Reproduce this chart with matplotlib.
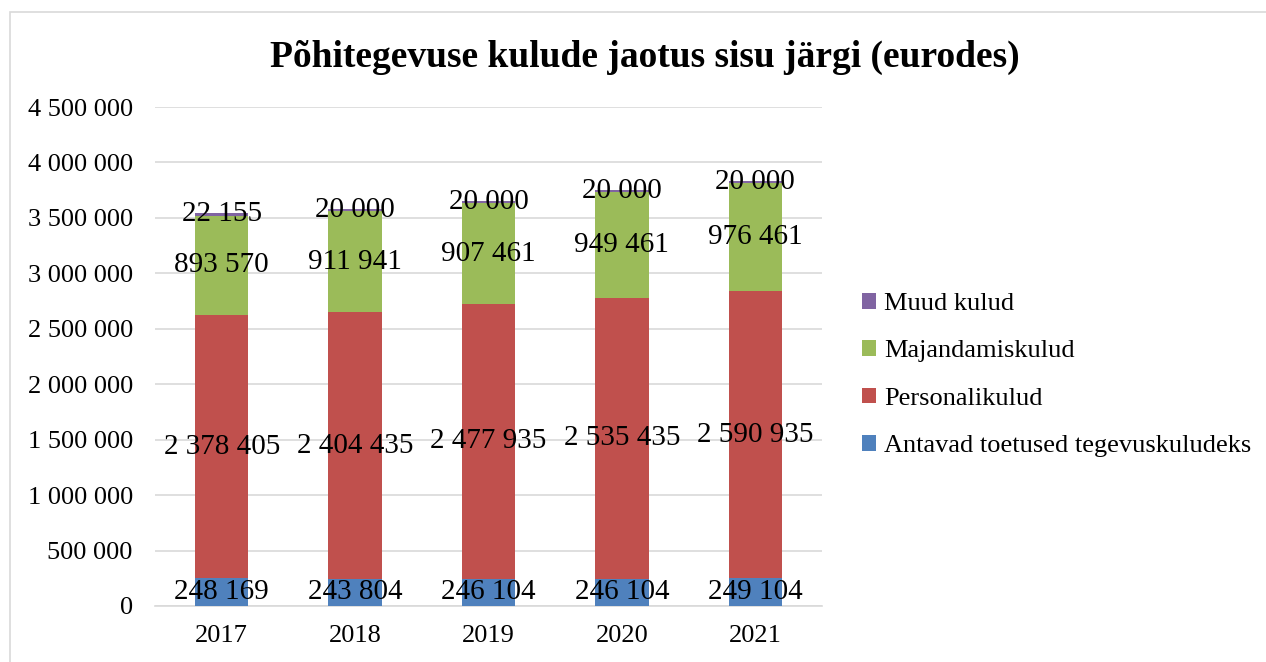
import numpy as np
import matplotlib.pyplot as plt
from matplotlib.patches import Rectangle

years = ['2017', '2018', '2019', '2020', '2021']
toetused = [248169, 243804, 246104, 246104, 249104]
personal = [2378405, 2404435, 2477935, 2535435, 2590935]
majandamine = [893570, 911941, 907461, 949461, 976461]
muud = [22155, 20000, 20000, 20000, 20000]

series = [
    ('Antavad toetused tegevuskuludeks', toetused, '#4F81BD'),
    ('Personalikulud', personal, '#C0504D'),
    ('Majandamiskulud', majandamine, '#9BBB59'),
    ('Muud kulud', muud, '#8064A2'),
]

plt.rcParams['font.family'] = ['Liberation Serif', 'DejaVu Serif']


def fmt(v):
    return f'{int(v):,}'.replace(',', ' ')


fig = plt.figure(figsize=(12.66, 6.62), dpi=100)
ax = fig.add_axes([155 / 1266, 1 - 606 / 662, 667 / 1266, 499 / 662])

# outer chart border
fig.patches.append(Rectangle((10 / 1266, -0.01), 1.0, 1 - 12 / 662 + 0.01,
                             transform=fig.transFigure, fill=False,
                             edgecolor='#D9D9D9', linewidth=1.2))

x = np.arange(len(years))
bottom = np.zeros(len(years))
handles = []
for name, vals, color in series:
    vals = np.array(vals, dtype=float)
    bars = ax.bar(x, vals, 0.4, bottom=bottom, color=color, label=name, zorder=3)
    handles.append(bars)
    for xi, b, v in zip(x, bottom, vals):
        ax.text(xi, b + v / 2, fmt(v), ha='center', va='center',
                fontsize=21, color='black', zorder=4)
    bottom += vals

ax.set_xlim(-0.5, len(years) - 0.5)
ax.set_ylim(0, 4500000)
ax.set_yticks(np.arange(0, 4500001, 500000))
ax.set_yticklabels([fmt(t) for t in np.arange(0, 4500001, 500000)])
ax.set_xticks(x)
ax.set_xticklabels(years)
ax.tick_params(axis='both', length=0, labelsize=19)
ax.tick_params(axis='y', pad=16)
ax.tick_params(axis='x', pad=14)
ax.yaxis.grid(True, color='#D9D9D9', linewidth=1.2, zorder=0)
ax.set_axisbelow(True)
for side in ['top', 'right', 'left']:
    ax.spines[side].set_visible(False)
ax.spines['bottom'].set_color('#D9D9D9')
ax.spines['bottom'].set_linewidth(1.2)

fig.text(645 / 1266, 1 - 57 / 662, 'Põhitegevuse kulude jaotus sisu järgi (eurodes)',
         ha='center', va='center', fontsize=27, fontweight='bold')

leg = fig.legend(handles[::-1], [s[0] for s in series][::-1],
                 loc='center left', bbox_to_anchor=(838 / 1266, 1 - 375 / 662),
                 frameon=False, fontsize=19, handlelength=0.55, handleheight=0.55,
                 handletextpad=0.3, labelspacing=0.95)

fig.savefig('out.png', dpi=100)
